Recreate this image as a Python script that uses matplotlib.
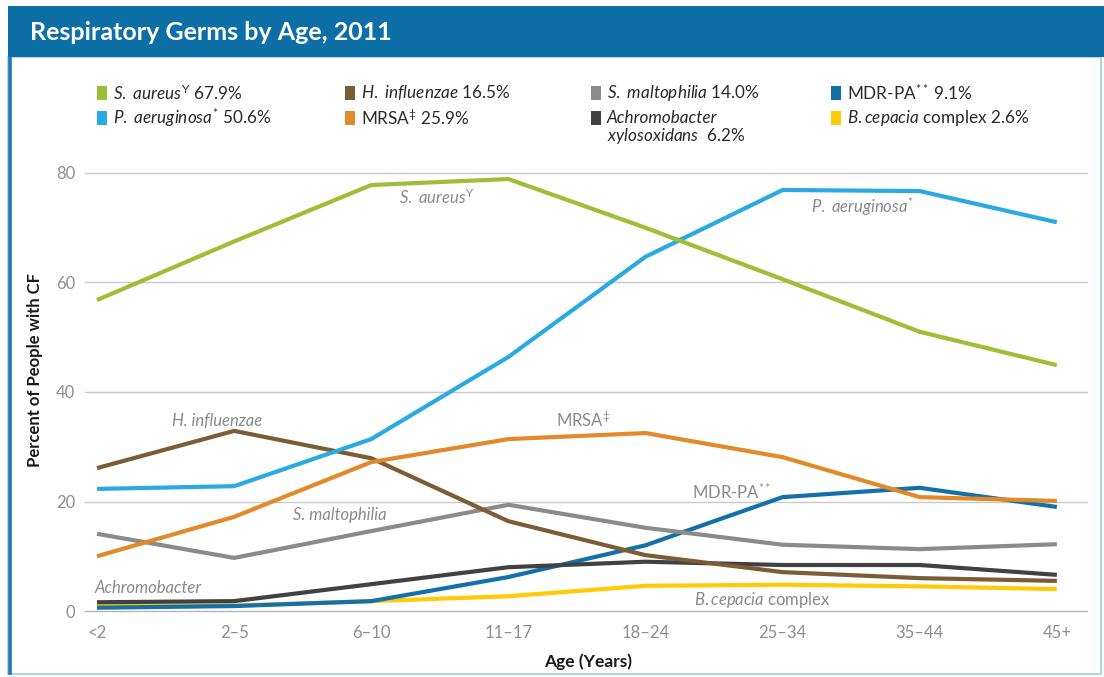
import matplotlib
matplotlib.use("Agg")
import matplotlib.pyplot as plt
from matplotlib.patches import Rectangle
from matplotlib.lines import Line2D

plt.rcParams['font.family'] = ['Lato', 'DejaVu Sans']
plt.rcParams['mathtext.fontset'] = 'custom'
plt.rcParams['mathtext.rm'] = 'Lato'
plt.rcParams['mathtext.it'] = 'Lato:italic'
plt.rcParams['mathtext.bf'] = 'Lato:bold'

# ---------------- data ----------------
ages = ["<2", "2\u20135", "6\u201310", "11\u201317", "18\u201324", "25\u201334", "35\u201344", "45+"]

s_aureus      = [56.8, 67.5, 77.8, 78.9, 70.0, 60.6, 51.0, 44.9]
p_aeruginosa  = [22.3, 22.8, 31.4, 46.4, 64.7, 76.9, 76.7, 71.0]
h_influenzae  = [26.1, 32.9, 27.9, 16.4, 10.2, 7.1, 6.0, 5.5]
mrsa          = [10.0, 17.2, 27.2, 31.4, 32.5, 28.1, 20.8, 20.1]
s_maltophilia = [14.1, 9.7, 14.6, 19.4, 15.2, 12.1, 11.3, 12.2]
mdr_pa        = [0.6, 0.9, 1.8, 6.2, 12.0, 20.8, 22.5, 19.0]
achromobacter = [1.6, 1.8, 4.9, 8.0, 9.0, 8.4, 8.4, 6.6]
b_cepacia     = [0.9, 1.0, 1.8, 2.7, 4.6, 4.8, 4.5, 4.0]

overall_pct = {
    "s_aureus": 67.9, "p_aeruginosa": 50.6, "h_influenzae": 16.5, "mrsa": 25.9,
    "s_maltophilia": 14.0, "achromobacter": 6.2, "mdr_pa": 9.1, "b_cepacia": 2.6,
}

yticks = [0, 20, 40, 60, 80]

# ---------------- styles ----------------
colors = {
    "s_aureus": "#9DBE35",
    "p_aeruginosa": "#2AAAE1",
    "h_influenzae": "#7A5C35",
    "mrsa": "#E2892A",
    "s_maltophilia": "#8B8B8B",
    "achromobacter": "#414141",
    "mdr_pa": "#1470A8",
    "b_cepacia": "#FFCB08",
}
series = {
    "s_aureus": s_aureus, "p_aeruginosa": p_aeruginosa, "h_influenzae": h_influenzae,
    "mrsa": mrsa, "s_maltophilia": s_maltophilia, "achromobacter": achromobacter,
    "mdr_pa": mdr_pa, "b_cepacia": b_cepacia,
}
draw_order = ["b_cepacia", "mdr_pa", "achromobacter", "s_maltophilia", "h_influenzae",
              "mrsa", "p_aeruginosa", "s_aureus"]

W, H = 1104, 677
fig = plt.figure(figsize=(W / 100, H / 100), dpi=100)
fig.patch.set_facecolor("white")

def fx(px):
    return px / W

def fy(py):
    return 1 - py / H

# Frame / title bar
fig.add_artist(Rectangle((fx(8), fy(674)), fx(1101 - 8), (674 - 57) / H,
                         transform=fig.transFigure, facecolor="white",
                         edgecolor="#9CCFE8", linewidth=1.2, zorder=0))
fig.add_artist(Line2D([fx(10), fx(10)], [fy(57), fy(673)], transform=fig.transFigure,
                      color="#1F7AB3", linewidth=2.6, zorder=1))
fig.add_artist(Rectangle((fx(8), fy(57)), fx(W - 8), (57 - 6) / H,
                         transform=fig.transFigure, facecolor="#0D6FA6",
                         edgecolor="none", zorder=1))
fig.text(fx(30), fy(33), "Respiratory Germs by Age, 2011", color="white",
         fontsize=18, fontweight="bold", va="center", ha="left")

# Axes
ax = fig.add_axes([fx(85), fy(611), fx(1087 - 85), (611 - 173) / H])
x = list(range(len(ages)))
for key in draw_order:
    ax.plot(x, series[key], color=colors[key], linewidth=3.0, solid_capstyle="butt",
            solid_joinstyle="miter", clip_on=False, zorder=3)

ax.set_xlim(-0.088, len(ages) - 1 + 0.22)
ax.set_ylim(0, 80)
ax.set_yticks(yticks)
ax.set_xticks(x)
ax.set_xticklabels(ages)
for y in yticks:
    ax.axhline(y, color="#C9C9C9" if y else "#B5B5B5", linewidth=1.0, zorder=1, clip_on=False)
for s in ax.spines.values():
    s.set_visible(False)
ax.tick_params(axis="both", length=0, colors="#8E8E8E", labelsize=12)
ax.tick_params(axis="y", pad=7)
ax.tick_params(axis="x", pad=10)
ax.set_facecolor("none")

ax.set_ylabel("Percent of People with CF", fontsize=12, fontweight="bold",
              color="#1A1A1A")
ax.yaxis.set_label_coords(-0.042, 0.55)
ax.set_xlabel("Age (Years)", fontsize=12.5, fontweight="bold", color="#1A1A1A")
ax.xaxis.set_label_coords(0.502, -0.096)

# Inline labels
lab_color = "#8A8A8A"
lab_fs = 12
ax.text(2.48, 75.6, r"$\mathit{S.\ aureus}^{\mathrm{Y}}$", color=lab_color, fontsize=lab_fs,
        ha="center", va="center")
ax.text(5.58, 73.8, r"$\mathit{P.\ aeruginosa}^{*}$", color=lab_color, fontsize=lab_fs,
        ha="center", va="center")
ax.text(0.875, 34.7, "H. influenzae", color=lab_color, fontsize=lab_fs, style="italic",
        ha="center", va="center")
ax.text(3.545, 34.9, r"MRSA$^{\ddag}$", color=lab_color, fontsize=lab_fs,
        ha="center", va="center")
ax.text(1.77, 17.5, "S. maltophilia", color=lab_color, fontsize=lab_fs, style="italic",
        ha="center", va="center")
ax.text(4.63, 21.6, r"MDR-PA$^{**}$", color=lab_color, fontsize=lab_fs,
        ha="center", va="center")
ax.text(-0.02, 4.2, "Achromobacter", color=lab_color, fontsize=lab_fs, style="italic",
        ha="left", va="center")
ax.text(4.85, 2.0, r"$\mathit{B.cepacia}$ complex", color=lab_color, fontsize=lab_fs,
        ha="center", va="center")

# Legend (manual, 4 columns x 2 rows)
legend_entries = [
    ("s_aureus", r"$\mathit{S.\ aureus}^{\mathrm{Y}}$ " + f"{overall_pct['s_aureus']:.1f}%", 0, 0),
    ("p_aeruginosa", r"$\mathit{P.\ aeruginosa}^{*}$ " + f"{overall_pct['p_aeruginosa']:.1f}%", 0, 1),
    ("h_influenzae", r"$\mathit{H.\ influenzae}$ " + f"{overall_pct['h_influenzae']:.1f}%", 1, 0),
    ("mrsa", r"MRSA$^{\ddag}$ " + f"{overall_pct['mrsa']:.1f}%", 1, 1),
    ("s_maltophilia", r"$\mathit{S.\ maltophilia}$ " + f"{overall_pct['s_maltophilia']:.1f}%", 2, 0),
    ("achromobacter", "Achromobacter", 2, 1),
    ("mdr_pa", r"MDR-PA$^{**}$ " + f"{overall_pct['mdr_pa']:.1f}%", 3, 0),
    ("b_cepacia", r"$\mathit{B.cepacia}$ complex " + f"{overall_pct['b_cepacia']:.1f}%", 3, 1),
]
col_px = [97, 345, 591, 831]
row_px = [93, 118]
leg_fs = 12.3
for key, text, c, r in legend_entries:
    sx, sy = col_px[c], row_px[r]
    fig.add_artist(Rectangle((fx(sx), fy(sy + 7)), fx(10), 14 / H,
                             transform=fig.transFigure, facecolor=colors[key],
                             edgecolor="none", zorder=2))
    if key == "achromobacter":
        fig.text(fx(sx + 16), fy(sy), "Achromobacter", fontsize=leg_fs, style="italic",
                 color="#2A2A2A", va="center", ha="left")
        fig.text(fx(sx + 16), fy(sy + 18),
                 r"$\mathit{xylosoxidans}$  " + f"{overall_pct['achromobacter']:.1f}%",
                 fontsize=leg_fs, color="#2A2A2A", va="center", ha="left")
    else:
        fig.text(fx(sx + 16), fy(sy), text, fontsize=leg_fs, color="#2A2A2A",
                 va="center", ha="left")

fig.savefig("out.png", dpi=100, facecolor="white")
